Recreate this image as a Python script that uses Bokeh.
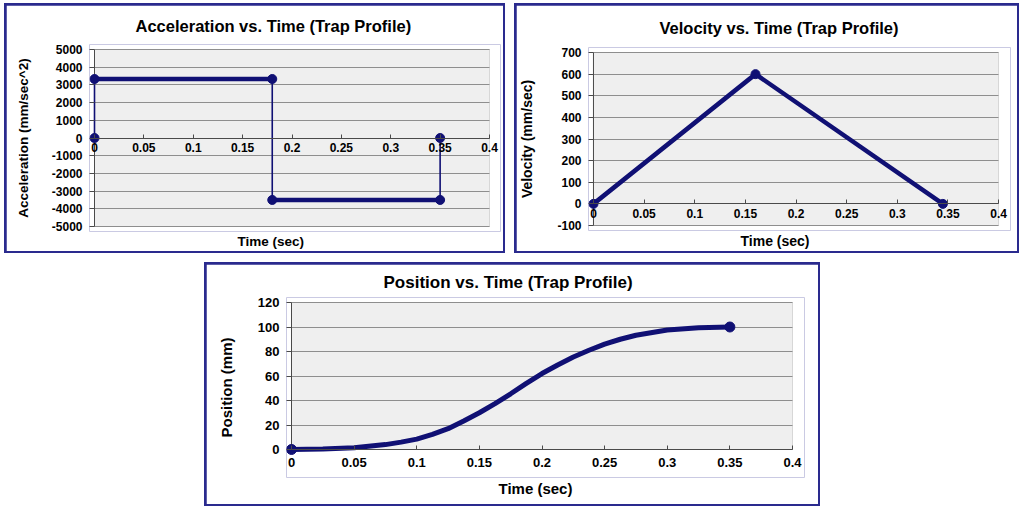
from bokeh.plotting import figure
from bokeh.layouts import column, row
from bokeh.models import Range1d, FixedTicker, Title, BoxAnnotation
from bokeh.embed import file_html
from bokeh.resources import INLINE

# ---- data -------------------------------------------------------------
time_ticks = [0, 0.05, 0.1, 0.15, 0.2, 0.25, 0.3, 0.35, 0.4]
time_tick_labels = ["0", "0.05", "0.1", "0.15", "0.2", "0.25", "0.3", "0.35", "0.4"]

acc_time = [0, 0, 0.18, 0.18, 0.35, 0.35]
acc_value = [0, 3333, 3333, -3500, -3500, 0]
acc_ticks = [-5000, -4000, -3000, -2000, -1000, 0, 1000, 2000, 3000, 4000, 5000]

vel_time = [0, 0.16, 0.345]
vel_value = [0, 600, 0]
vel_ticks = [-100, 0, 100, 200, 300, 400, 500, 600, 700]

pos_time = [0, 0.025, 0.05, 0.075, 0.0875, 0.1, 0.1125, 0.125, 0.1375, 0.15,
            0.1625, 0.175, 0.1875, 0.2, 0.2125, 0.225, 0.2375, 0.25, 0.2625,
            0.275, 0.3, 0.325, 0.35]
pos_value = [0, 0.4, 1.5, 4, 6, 8.5, 12.3, 17, 23.3, 30,
             37.5, 45.5, 54, 62, 69, 75.5, 81, 86, 90,
             93.3, 97.5, 99.4, 100]
pos_ticks = [0, 20, 40, 60, 80, 100, 120]

# ---- style ------------------------------------------------------------
FONT = "'Liberation Sans', Arial, sans-serif"
NAVY = "#101074"
AREA_BG = "#efefef"
GRID = "#8e8e8e"
AXIS = "#4a4a4a"
PANEL_BORDER = "#2a2a8e"
X_MIN, X_MAX = 0, 0.4


def padded(lo, hi, span_px, pad_lo, pad_hi):
    """Range that leaves a few pixels of room around [lo, hi] so end markers are not cut."""
    k = span_px / (hi - lo)
    return Range1d(lo - pad_lo / k, hi + pad_hi / k)


def make_panel(title, ylabel, y_lo, y_hi, y_ticks, width, height, borders,
               area_px, pads, title_font, title_offset, title_standoff,
               tick_size, tick_standoff, label_size, xlabel_offset,
               xlabel_standoff, ylabel_standoff):
    left, right, top, bottom = borders
    area_w, area_h = area_px
    pl, pr, pt, pb = pads
    p = figure(width=width, height=height,
               x_range=padded(X_MIN, X_MAX, area_w, pl, pr),
               y_range=padded(y_lo, y_hi, area_h, pb, pt),
               output_backend="svg", toolbar_location=None,
               min_border_left=left, min_border_right=right,
               min_border_top=top, min_border_bottom=bottom,
               title=title)
    p.title.align = "left"
    p.title.offset = title_offset
    p.title.standoff = title_standoff
    p.title.text_font = FONT
    p.title.text_font_size = title_font
    p.title.text_font_style = "bold"
    p.title.text_color = "black"

    p.background_fill_color = "white"
    p.border_fill_color = "white"
    p.outline_line_color = None

    # grey plot area
    p.add_layout(BoxAnnotation(left=X_MIN, right=X_MAX, bottom=y_lo, top=y_hi,
                               fill_color=AREA_BG, fill_alpha=1,
                               line_color=GRID, line_width=1, level="image"))
    p.xgrid.visible = False
    p.ygrid.ticker = FixedTicker(ticks=y_ticks)
    p.ygrid.grid_line_color = GRID
    try:
        p.ygrid.cross_bounds = (X_MIN, X_MAX)
    except AttributeError:
        p.ygrid.visible = False
        p.segment(x0=[X_MIN] * len(y_ticks), x1=[X_MAX] * len(y_ticks),
                  y0=y_ticks, y1=y_ticks, line_color=GRID, line_width=1)

    # value axis line at t = 0
    p.line([X_MIN, X_MIN], [y_lo, y_hi], line_color=AXIS, line_width=1)

    xa = p.xaxis[0]
    xa.fixed_location = 0
    xa.bounds = (X_MIN, X_MAX)
    xa.ticker = FixedTicker(ticks=time_ticks)
    xa.major_label_overrides = dict(zip(time_ticks, time_tick_labels))
    xa.major_tick_in = 4
    xa.major_tick_out = 0
    xa.minor_tick_line_color = None
    xa.axis_line_color = AXIS
    xa.major_tick_line_color = AXIS
    xa.major_label_text_font = FONT
    xa.major_label_text_font_style = "bold"
    xa.major_label_text_font_size = tick_size
    xa.major_label_text_color = "black"
    xa.major_label_standoff = tick_standoff

    ya = p.yaxis[0]
    ya.bounds = (y_lo, y_hi)
    ya.ticker = FixedTicker(ticks=y_ticks)
    ya.major_label_overrides = {v: str(v) for v in y_ticks}
    ya.major_tick_in = pl
    ya.major_tick_out = 0
    ya.minor_tick_line_color = None
    ya.axis_line_color = None
    ya.major_tick_line_color = AXIS
    ya.major_label_text_font = FONT
    ya.major_label_text_font_style = "bold"
    ya.major_label_text_font_size = tick_size
    ya.major_label_text_color = "black"
    ya.major_label_standoff = 7
    ya.axis_label = ylabel
    ya.axis_label_text_font = FONT
    ya.axis_label_text_font_style = "bold"
    ya.axis_label_text_font_size = label_size
    ya.axis_label_text_color = "black"
    ya.axis_label_standoff = ylabel_standoff

    xt = Title(text="Time (sec)", align="left", text_font=FONT,
               text_font_style="bold", text_font_size=label_size,
               text_color="black", offset=xlabel_offset,
               standoff=xlabel_standoff)
    p.add_layout(xt, "below")

    p.margin = (2, 2, 2, 2)
    return p


def framed(p, margin):
    box = column(p, styles={"background-color": PANEL_BORDER})
    box.margin = margin
    return box


# Acceleration: flat segments drawn heavy, the jumps between them light
p1 = make_panel("Acceleration vs. Time (Trap Profile)", "Acceleration (mm/sec^2)",
                -5000, 5000, acc_ticks, 497, 246, (83, 3, 39, 20),
                (395, 177), (5, 11, 5, 5), "16.5px", 46, 19,
                "12px", 5, "13.5px", 148, 0, 18)
flat_x, flat_y, jump_x, jump_y = [], [], [], []
for i in range(len(acc_time) - 1):
    seg_x = [acc_time[i], acc_time[i + 1]]
    seg_y = [acc_value[i], acc_value[i + 1]]
    if acc_time[i] == acc_time[i + 1]:
        jump_x.append(seg_x)
        jump_y.append(seg_y)
    else:
        flat_x.append(seg_x)
        flat_y.append(seg_y)
p1.multi_line(jump_x, jump_y, line_color=NAVY, line_width=1.6)
p1.multi_line(flat_x, flat_y, line_color=NAVY, line_width=4.5)
p1.scatter(acc_time, acc_value, size=9, color=NAVY)

# Velocity: triangular profile
p2 = make_panel("Velocity vs. Time (Trap Profile)", "Velocity (mm/sec)",
                -100, 700, vel_ticks, 501, 246, (70, 7, 42, 21),
                (407, 173), (5, 12, 5, 5), "16.5px", 71, 22,
                "12px", 5, "14px", 152, 0, 19)
p2.line(vel_time, vel_value, line_color=NAVY, line_width=4.5, line_join="round")
p2.scatter(vel_time, vel_value, size=9, color=NAVY)

# Position: S-curve, markers at the start and end only
p3 = make_panel("Position vs. Time (Trap Profile)", "Position (mm)",
                0, 120, pos_ticks, 612, 240, (80, 14, 33, 27),
                (501, 147), (5, 12, 5, 28), "17px", 97, 12,
                "13px", 8, "15px", 212, 0, 20)
p3.line(pos_time, pos_value, line_color=NAVY, line_width=5, line_join="round")
p3.scatter([pos_time[0], pos_time[-1]], [pos_value[0], pos_value[-1]], size=10, color=NAVY)

layout = column(row(framed(p1, (3, 0, 0, 4)), framed(p2, (3, 0, 0, 9))),
                framed(p3, (9, 0, 0, 204)))
open("out.html", "w").write(file_html(layout, INLINE))
